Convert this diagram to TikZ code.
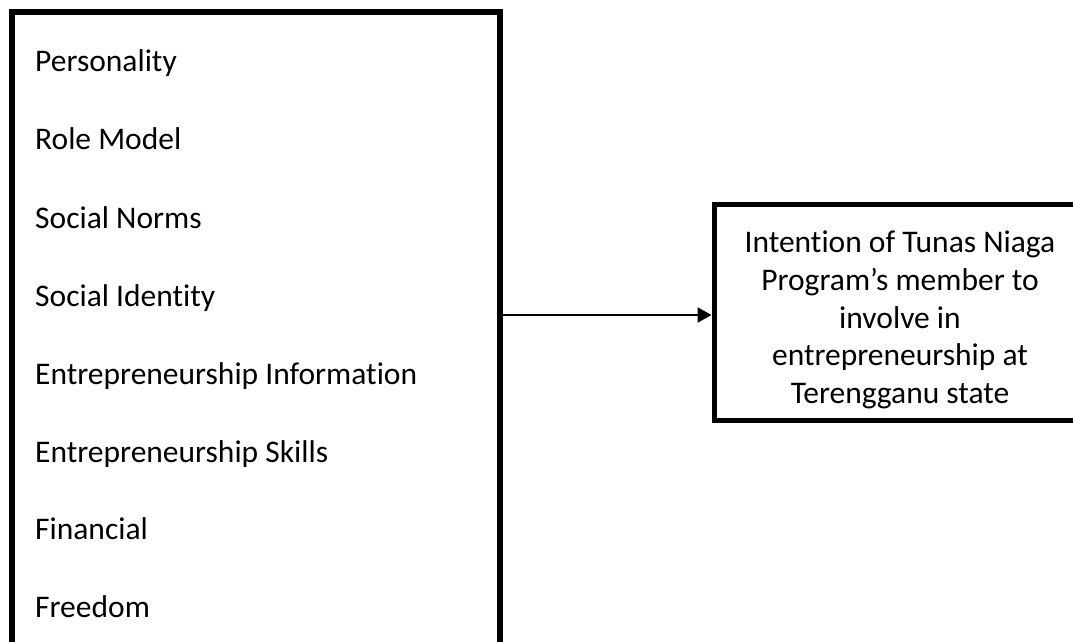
\documentclass[tikz,border=0pt]{standalone}
\usepackage{fontspec}
\setmainfont{Carlito}[Ligatures=NoCommon]
\usetikzlibrary{arrows.meta}
\begin{document}
\begin{tikzpicture}[x=1pt,y=-1pt,
  bigbox/.style={draw=black, line width=6pt, rectangle, inner sep=0pt},
  outbox/.style={draw=black, line width=5pt, rectangle, inner sep=0pt},
  txt/.style={inner sep=0pt, font=\fontsize{31.5}{37.7}\selectfont},
  item/.style={txt, anchor=base west},
  conn/.style={line width=2.5pt, -{Triangle[length=14pt,width=15pt]}}]
\useasboundingbox (0,0) rectangle (1073,642);
\clip (0,0) rectangle (1073,642);
\fill[white] (0,0) rectangle (1073,642);
\node[bigbox, minimum width=488pt, minimum height=688pt] (inputs) at (256,356) {};
\node[item] (i1) at (35,71) {Personality};
\node[item] (i2) at (35,149) {Role Model};
\node[item] (i3) at (35,228) {Social Norms};
\node[item] (i4) at (35,306) {Social Identity};
\node[item] (i5) at (35,384) {Entrepreneurship Information};
\node[item] (i6) at (35,462) {Entrepreneurship Skills};
\node[item] (i7) at (35,539) {Financial};
\node[item] (i8) at (35,617) {Freedom};
\node[outbox, minimum width=372pt, minimum height=216pt] (outcome) at (900,312) {};
\node[txt, align=center] (otext) at (900,320) {Intention of Tunas Niaga\\Program’s member to\\involve in\\entrepreneurship at\\Terengganu state};
\draw[conn] ([yshift=-3pt]inputs.east |- outcome.west) -- ([yshift=-3pt]outcome.west);
\end{tikzpicture}
\end{document}
